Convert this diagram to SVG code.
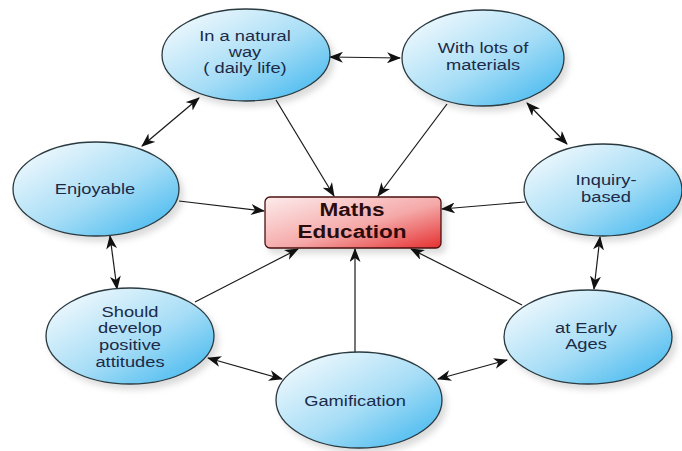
<svg xmlns="http://www.w3.org/2000/svg" width="682" height="451" viewBox="0 0 682 451">
<defs>
<linearGradient id="gBlue" x1="0" y1="0" x2="1" y2="1">
<stop offset="0.1" stop-color="#eef8fd"/>
<stop offset="0.55" stop-color="#a6ddf6"/>
<stop offset="1" stop-color="#36b3ee"/>
</linearGradient>
<linearGradient id="gRed" x1="0" y1="0" x2="1" y2="1">
<stop offset="0" stop-color="#fdecec"/>
<stop offset="0.55" stop-color="#f5a9a9"/>
<stop offset="1" stop-color="#e52f2f"/>
</linearGradient>
<filter id="sh" x="-20%" y="-20%" width="150%" height="150%">
<feDropShadow dx="4" dy="5" stdDeviation="3" flood-color="#000" flood-opacity="0.14"/>
</filter>
<marker id="ah" viewBox="0 0 14 11" refX="13" refY="5.5" markerWidth="14" markerHeight="11" markerUnits="userSpaceOnUse" orient="auto-start-reverse">
<path d="M0,0 L14,5.5 L0,11 L4,5.5 Z" fill="#111"/>
</marker>
<style>
.node ellipse{fill:url(#gBlue);stroke:#2a3a40;stroke-width:1.3;filter:url(#sh)}
.t{font-family:"Liberation Sans",Arial,sans-serif;font-size:15px;fill:#1c2a48;text-anchor:middle}
.tb{font-family:"Liberation Sans",Arial,sans-serif;font-size:18.5px;font-weight:bold;fill:#2a0c0c;text-anchor:middle}
.c line{stroke:#1a1a1a;stroke-width:1.2;fill:none}
.one{marker-end:url(#ah)}
.two{marker-start:url(#ah);marker-end:url(#ah)}
</style>
</defs>
<rect width="682" height="451" fill="#fff"/>

<g id="connectors" class="c">
<line class="two" x1="330" y1="57" x2="400" y2="58"/>
<line class="one" x1="276" y1="100" x2="334" y2="196"/>
<line class="one" x1="447" y1="104" x2="378" y2="196"/>
<line class="two" x1="527" y1="103" x2="567" y2="144"/>
<line class="two" x1="199" y1="98" x2="142" y2="146"/>
<line class="one" x1="179" y1="201" x2="264" y2="211"/>
<line class="one" x1="525" y1="202" x2="442" y2="209"/>
<line class="two" x1="600" y1="237" x2="594" y2="289"/>
<line class="two" x1="110" y1="236" x2="117" y2="289"/>
<line class="one" x1="195" y1="302" x2="298" y2="249"/>
<line class="one" x1="355" y1="352" x2="355" y2="249"/>
<line class="one" x1="522" y1="305" x2="411" y2="249"/>
<line class="two" x1="208" y1="358" x2="282" y2="379"/>
<line class="two" x1="438" y1="379" x2="507" y2="360"/>
</g>

<g id="maths">
<rect x="265" y="197" width="176" height="51" rx="5" fill="url(#gRed)" stroke="#4a1010" stroke-width="1.3" filter="url(#sh)"/>
<g transform="translate(352,0) scale(1.22,1)">
<text class="tb" x="0" y="216">Maths</text>
<text class="tb" x="0" y="238">Education</text>
</g>
</g>

<g id="natural" class="node">
<ellipse cx="246" cy="55" rx="84" ry="46"/>
<g transform="translate(245,0) scale(1.22,1)">
<text class="t" x="0" y="41">In a natural</text>
<text class="t" x="0" y="57">way</text>
<text class="t" x="0" y="73">( daily life)</text>
</g>
</g>

<g id="materials" class="node">
<ellipse cx="483" cy="58" rx="81" ry="48"/>
<g transform="translate(483,0) scale(1.22,1)">
<text class="t" x="0" y="53">With lots of</text>
<text class="t" x="0" y="70">materials</text>
</g>
</g>

<g id="enjoyable" class="node">
<ellipse cx="96" cy="189" rx="83" ry="47"/>
<g transform="translate(95,0) scale(1.22,1)">
<text class="t" x="0" y="194">Enjoyable</text>
</g>
</g>

<g id="inquiry" class="node">
<ellipse cx="603" cy="190" rx="79" ry="46"/>
<g transform="translate(606,0) scale(1.22,1)">
<text class="t" x="0" y="185">Inquiry-</text>
<text class="t" x="0" y="202">based</text>
</g>
</g>

<g id="attitudes" class="node">
<ellipse cx="130" cy="336" rx="84" ry="48"/>
<g transform="translate(130,0) scale(1.22,1)">
<text class="t" x="0" y="317">Should</text>
<text class="t" x="0" y="333">develop</text>
<text class="t" x="0" y="350">positive</text>
<text class="t" x="0" y="367">attitudes</text>
</g>
</g>

<g id="gamification" class="node">
<ellipse cx="359" cy="400" rx="83" ry="48"/>
<g transform="translate(355,0) scale(1.22,1)">
<text class="t" x="0" y="406">Gamification</text>
</g>
</g>

<g id="early" class="node">
<ellipse cx="588" cy="337" rx="84" ry="47"/>
<g transform="translate(586,0) scale(1.22,1)">
<text class="t" x="0" y="333">at Early</text>
<text class="t" x="0" y="349">Ages</text>
</g>
</g>
</svg>
